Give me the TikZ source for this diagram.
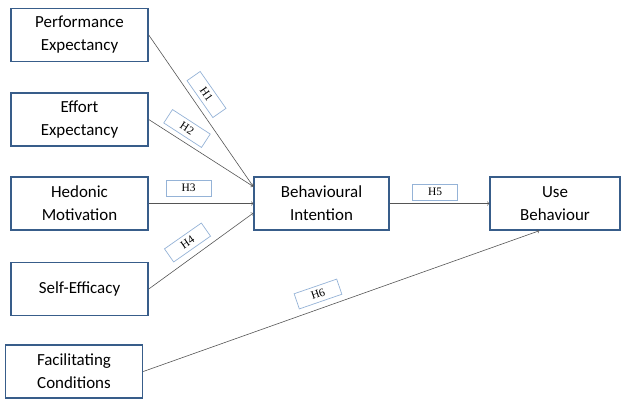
\documentclass[tikz,border=0pt]{standalone}
\usepackage{fontspec}
\setmainfont{Carlito}
\newfontfamily\hypfont{Liberation Serif}
\usetikzlibrary{arrows, positioning}
\definecolor{boxcolor}{RGB}{56, 93, 138}
\definecolor{hypcolor}{RGB}{149, 179, 215}
\definecolor{linkcolor}{RGB}{85, 85, 85}

\begin{document}
\begin{tikzpicture}[
    x=1bp, y=-1bp,
    construct/.style={draw=boxcolor, line width=1.5bp, fill=white, minimum width=137bp, minimum height=53bp, align=center, font=\fontsize{17}{23}\selectfont},
    hyp/.style={draw=hypcolor, line width=0.7bp, fill=white, minimum width=45bp, minimum height=16bp, inner sep=0pt, font=\hypfont\fontsize{11.5}{12}\selectfont},
    link/.style={->, draw=linkcolor, line width=0.6bp}
]
\useasboundingbox (0,0) rectangle (623,398);

% Constructs
\node[construct] (pe) at (79.5, 35) {Performance\\Expectancy};
\node[construct] (ee) at (79.5, 119.5) {Effort\\Expectancy};
\node[construct] (hm) at (79.5, 203.5) {Hedonic\\Motivation};
\node[construct] (se) at (79.5, 289) {Self-Efficacy};
\node[construct] (fc) at (74, 371.5) {Facilitating\\Conditions};

\node[construct, minimum width=135bp] (bi) at (321.5, 203.5) {Behavioural\\Intention};
\node[construct, minimum width=130bp] (ub) at (555, 203.5) {Use\\Behaviour};

% Paths
\draw[link] (pe.east) -- (bi.166);
\draw[link] (ee.east) -- (bi.166);
\draw[link] (hm.east) -- (bi.west);
\draw[link] (se.east) -- (bi.188);
\draw[link] (bi.east) -- (ub.west);
\draw[link] (fc.east) -- (ub.240);

% Hypotheses
\node[hyp, rotate=-55] (h1) at (206.5, 94.5) {H1};
\node[hyp, rotate=-33] (h2) at (187, 128.5) {H2};
\node[hyp] (h3) at (188.5, 188) {H3};
\node[hyp, rotate=35] (h4) at (187.5, 242.5) {H4};
\node[hyp] (h5) at (435, 192) {H5};
\node[hyp, rotate=19] (h6) at (318, 294) {H6};

\end{tikzpicture}
\end{document}
